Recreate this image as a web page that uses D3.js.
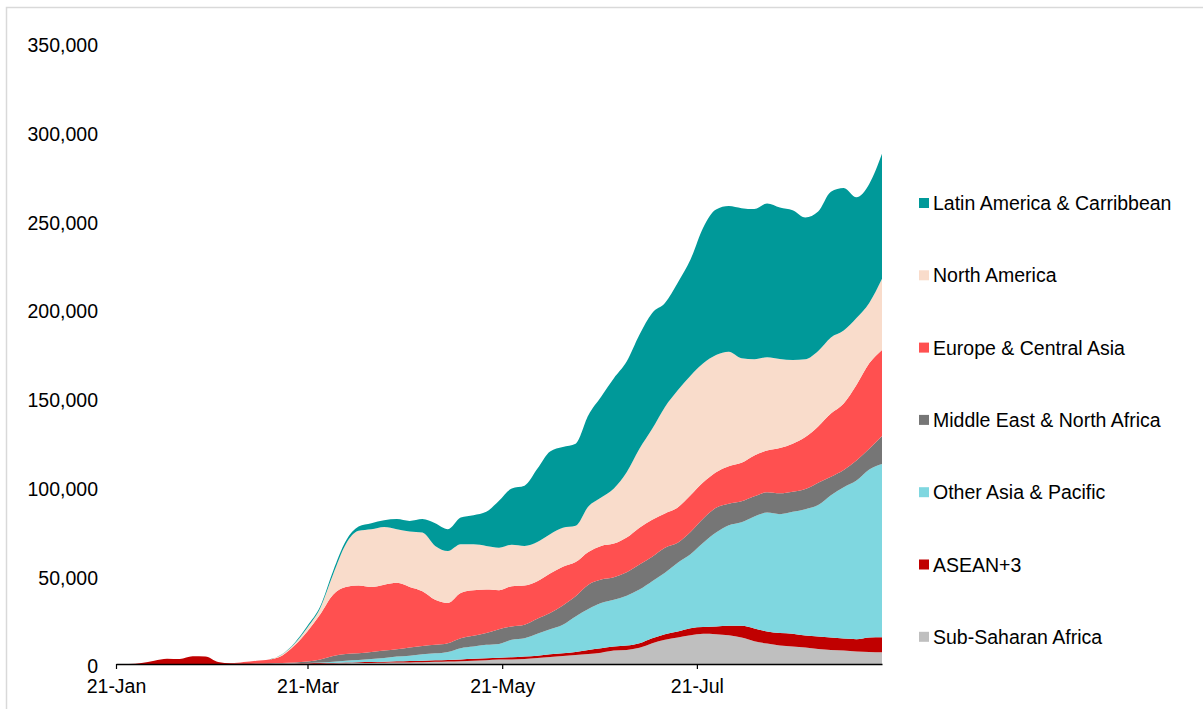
<!DOCTYPE html>
<html><head><meta charset="utf-8">
<script src="https://cdn.jsdelivr.net/npm/d3@7"></script>
<style>
body{margin:0;background:#fff;}
svg{display:block;font-family:"Liberation Sans",Arial,Helvetica,sans-serif;}
</style></head><body>
<svg id="chart" width="1203" height="709"></svg>
<script>
const dates = ["2020-01-21","2020-01-25","2020-01-29","2020-02-02","2020-02-06","2020-02-10","2020-02-14","2020-02-18","2020-02-22","2020-02-26",
"2020-03-01","2020-03-05","2020-03-09","2020-03-13","2020-03-17","2020-03-21","2020-03-25","2020-03-29","2020-04-02","2020-04-06",
"2020-04-10","2020-04-14","2020-04-18","2020-04-22","2020-04-26","2020-04-30","2020-05-04","2020-05-08","2020-05-12","2020-05-16",
"2020-05-20","2020-05-24","2020-05-28","2020-06-01","2020-06-05","2020-06-09","2020-06-13","2020-06-17","2020-06-21","2020-06-25",
"2020-06-29","2020-07-03","2020-07-07","2020-07-11","2020-07-15","2020-07-19","2020-07-23","2020-07-27","2020-07-31","2020-08-04",
"2020-08-08","2020-08-12","2020-08-16","2020-08-20","2020-08-24","2020-08-28","2020-09-01","2020-09-05","2020-09-09","2020-09-13",
"2020-09-17"];

const subSaharanAfrica = [0,0,0,0,0,0,0,0,0,0, 0,0,0,100,100,200,200,300,400,500, 600,700,800,900,1000,1200,1400,1600,1800,2100, 2500,2600,2800,3400,4000,4500,5100,5700,6400,7600, 7900,9100,11700,13600,14900,16200,17000,16800,16200,14900, 12800,11500,10400,9800,9300,8500,7900,7600,7000,6800, 6600];
const asean3 = [0,0,600,1900,3000,2800,4300,4200,1100,400, 400,300,300,200,250,200,300,300,400,500, 500,600,700,800,900,900,900,1000,1200,1200, 1000,1200,1400,1300,1500,1500,1700,2200,2500,2200, 2500,2600,2800,3200,3400,4000,3800,4300,5300,6600, 7200,6800,7000,7200,6700,7000,7000,6700,7000,8100, 8500];
const otherAsiaPacific = [0,0,0,0,0,0,0,0,0,0, 0,0,0,50,100,200,400,700,1100,1300, 1700,2100,2700,3000,3600,3900,4500,6300,6800,7500, 7800,9800,10300,12300,14100,16100,20000,23100,25500,26400, 28100,30200,32100,34600,38700,41600,47500,52900,56600,58300, 63100,67000,67000,68700,71200,74000,80100,85200,89300,94600, 97600];
const middleEastNorthAfrica = [0,0,0,0,0,0,0,0,0,0, 0,100,300,250,450,800,1700,3200,3800,3700, 4000,4200,4100,4600,4700,4800,4900,5600,6100,6600, 8300,7500,7600,8500,9100,10900,11300,13700,13200,12700, 13200,14200,13800,14100,11300,12500,13600,14000,12100,11800, 11300,11400,11700,11300,11300,12600,10500,9800,11300,11700, 15700];
const europeCentralAsia = [0,0,0,0,0,0,0,0,0,0, 700,1500,2000,4100,9600,17100,25400,34500,37700,38200, 36600,37100,37400,34100,30800,25400,22700,25500,25600,24500, 21900,22700,22100,21100,22300,21800,19300,18400,18900,18900, 19500,20700,20800,19300,19900,20700,20400,20000,21200,21700, 23000,23500,25500,27000,29300,31700,35500,37400,42500,48100, 48500];
const northAmerica = [0,0,0,0,0,0,0,0,0,0, 0,0,0,600,1000,2000,3500,11400,24100,30800, 32500,32500,30200,31200,33000,30300,29200,27400,25900,24600, 24000,23400,22300,22100,22100,21900,20400,25600,27300,31100, 36800,44400,51300,60000,66000,67300,67000,66000,64500,58900, 54200,52500,50200,47200,43800,42500,42900,41100,37700,34000, 40000];
const latinAmericaCaribbean = [0,0,0,0,0,0,0,0,0,0, 0,0,0,200,500,1000,1000,1900,1800,2400, 3400,3800,5700,6000,7600,12800,12300,15100,16400,19200, 26500,31700,33900,41200,46600,45500,46200,51400,56700,62000, 62300,64200,65200,58500,60500,65500,76500,82000,82000,84500, 84600,86700,85300,84400,79900,78500,82100,80300,68000,67000, 70400];

const seriesNames = ["Sub-Saharan Africa","ASEAN+3","Other Asia & Pacific","Middle East & North Africa","Europe & Central Asia","North America","Latin America & Carribbean"];
const seriesValues = [subSaharanAfrica, asean3, otherAsiaPacific, middleEastNorthAfrica, europeCentralAsia, northAmerica, latinAmericaCaribbean];
const seriesColors = ["#bfbfbf","#c00000","#7fd7e0","#767676","#ff5050","#f9dccb","#009999"];
const yTickValues = [0,50000,100000,150000,200000,250000,300000,350000];
const xTickLabels = ["2020-01-21","2020-03-21","2020-05-21","2020-07-21"];

const parse = d3.utcParse("%Y-%m-%d");
const rows = dates.map((d,i) => {
  const r = {date: parse(d)};
  seriesNames.forEach((k,j) => r[k] = seriesValues[j][i]);
  return r;
});

const svg = d3.select("#chart");
const FS = 19.5;

svg.append("rect").attr("x",6.5).attr("y",7.5).attr("width",1210).attr("height",720)
  .attr("fill","#fff").attr("stroke","#d9d9d9").attr("stroke-width",1.5);

const x = d3.scaleUtc().domain([parse(dates[0]), parse(dates[dates.length-1])]).range([116, 882]);
const y = d3.scaleLinear().domain([0,350000]).range([664, 42.5]);

const stack = d3.stack().keys(seriesNames);
const layers = stack(rows);
const area = d3.area().x(d => x(d.data.date)).y0(d => y(d[0])).y1(d => y(d[1])).curve(d3.curveMonotoneX);

svg.append("g").selectAll("path").data(layers).join("path")
  .attr("d", area).attr("fill", (d,i) => seriesColors[i]);

// y axis
const yAxis = svg.append("g").attr("transform","translate(106,0)")
  .call(d3.axisLeft(y).tickValues(yTickValues).tickFormat(d3.format(",")).tickSize(0).tickPadding(8));
yAxis.select(".domain").remove();
yAxis.selectAll("text").attr("font-size",FS).attr("fill","#000").attr("dy","0.46em").style("font-family","Liberation Sans, Arial, sans-serif");

// x axis
const xAxis = svg.append("g").attr("transform","translate(0,664)")
  .call(d3.axisBottom(x).tickValues(xTickLabels.map(parse)).tickFormat(d3.utcFormat("%d-%b")).tickSize(5).tickSizeOuter(0).tickPadding(10.5));
xAxis.select(".domain").attr("stroke","#000").attr("stroke-width",1.4);
xAxis.selectAll(".tick line").attr("stroke","#000").attr("stroke-width",1.2);
xAxis.selectAll("text").attr("font-size",FS).attr("fill","#000").style("font-family","Liberation Sans, Arial, sans-serif");

// legend
const legendOrder = seriesNames.map((n,i)=>i).reverse();
const lg = svg.append("g");
legendOrder.forEach((idx, r) => {
  const cy = 203 + r * 72.3;
  lg.append("rect").attr("x",919).attr("y",cy-5).attr("width",10).attr("height",10).attr("fill",seriesColors[idx]);
  lg.append("text").attr("x",933).attr("y",cy+7).attr("font-size",FS).attr("fill","#000").text(seriesNames[idx]);
});
</script>
</body></html>
